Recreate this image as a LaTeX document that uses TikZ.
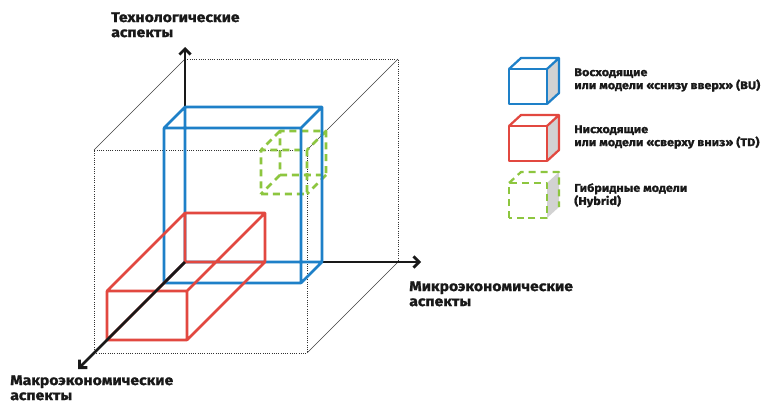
\documentclass[tikz,border=0pt]{standalone}
\usepackage{fontspec}
\setmainfont{Fira Sans}[FakeStretch=1.12,BoldFeatures={FakeBold=1.3}]
\usetikzlibrary{arrows.meta}

\definecolor{bublue}{RGB}{30,128,200}
\definecolor{tdred}{RGB}{226,72,64}
\definecolor{hygreen}{RGB}{141,198,63}
\definecolor{sidegray}{RGB}{210,210,210}
\definecolor{inkblack}{RGB}{25,25,25}

\tikzset{
  frame/.style={densely dotted,line width=0.6pt,black!80},
  framediag/.style={line width=0.4pt,black!75},
  axis/.style={line width=2pt,inkblack,-{Straight Barb[length=1.4mm,width=2.8mm]}},
  bubox/.style={line width=1.8pt,bublue},
  tdbox/.style={line width=1.8pt,tdred},
  hybox/.style={line width=1.8pt,hygreen,dash pattern=on 5pt off 3.5pt},
  axislabel/.style={inner sep=0pt,anchor=north west,align=left,text=inkblack,
    font=\fontsize{10pt}{10.7pt}\selectfont\bfseries},
  legendlabel/.style={inner sep=0pt,anchor=north west,align=left,text=inkblack,
    font=\fontsize{8pt}{9.3pt}\selectfont\bfseries}
}

\begin{document}
\begin{tikzpicture}[x=0.025cm,y=0.025cm,z={(-0.025cm,-0.025cm)},line join=round]
\fill[white] (0,0) rectangle (766,403);
\useasboundingbox (0,0) rectangle (766,403);

\begin{scope}[shift={(185,141)}]
\coordinate (O) at (0,0,0);
\coordinate (techend) at (0,215,0);
\coordinate (microend) at (236,0,0);
\coordinate (macroend) at (0,0,107);

% big cube
\draw[frame] (0,203,0) -- (213,203,0) -- (213,0,0);
\draw[frame] (0,0,91) -- (213,0,91) -- (213,203,91) -- (0,203,91) -- cycle;
\draw[framediag] (0,203,0) -- (0,203,91) (213,203,0) -- (213,203,91) (213,0,0) -- (213,0,91);

\draw[axis] (O) -- (techend);
\draw[axis] (O) -- (microend);

% hybrid
\draw[hybox] (167,159,72) -- (213,159,72) -- (213,203,72) -- (167,203,72) -- cycle
  (167,159,91) -- (213,159,91) -- (213,203,91) -- (167,203,91) -- cycle
  (167,159,72) -- (167,159,91) (213,159,72) -- (213,159,91)
  (213,203,72) -- (213,203,91) (167,203,72) -- (167,203,91);

% bottom-up
\draw[bubox] (0,0,0) -- (137,0,0) -- (137,155,0) -- (0,155,0) -- cycle
  (0,0,21) -- (137,0,21) -- (137,155,21) -- (0,155,21) -- cycle
  (0,0,0) -- (0,0,21) (137,0,0) -- (137,0,21)
  (137,155,0) -- (137,155,21) (0,155,0) -- (0,155,21);

% top-down
\draw[tdbox] (0,0,0) -- (80,0,0) -- (80,49,0) -- (0,49,0) -- cycle
  (0,0,78) -- (80,0,78) -- (80,49,78) -- (0,49,78) -- cycle
  (0,0,0) -- (0,0,78) (80,0,0) -- (80,0,78)
  (80,49,0) -- (80,49,78) (0,49,0) -- (0,49,78);

\draw[axis] (O) -- (macroend);
\end{scope}

\node[axislabel] (techlabel) at (111,391) {Технологические\\аспекты};
\node[axislabel] (microlabel) at (409,122) {Микроэкономические\\аспекты};
\node[axislabel] (macrolabel) at (10,28) {Макроэкономические\\аспекты};

% legend
\begin{scope}[shift={(509,299)}]
\fill[sidegray] (38,0) -- (50,11) -- (50,46) -- (38,35) -- cycle;
\draw[bubox,line width=1.6pt] (0,0) rectangle (38,35);
\draw[bubox,line width=1.6pt] (0,35) -- (12,46) -- (50,46) -- (50,11) -- (38,0) (38,35) -- (50,46);
\end{scope}
\begin{scope}[shift={(509,242)}]
\fill[sidegray] (38,0) -- (50,11) -- (50,46) -- (38,35) -- cycle;
\draw[tdbox,line width=1.6pt] (0,0) rectangle (38,35);
\draw[tdbox,line width=1.6pt] (0,35) -- (12,46) -- (50,46) -- (50,11) -- (38,0) (38,35) -- (50,46);
\end{scope}
\begin{scope}[shift={(509,185)}]
\fill[sidegray] (38,0) -- (50,11) -- (50,46) -- (38,35) -- cycle;
\draw[hybox,line width=1.6pt] (0,0) rectangle (38,35);
\draw[hybox,line width=1.6pt] (0,35) -- (12,46) -- (50,46) -- (50,11);
\end{scope}

\node[legendlabel] (bulabel) at (574,335) {Восходящие\\или модели «снизу вверх» (BU)};
\node[legendlabel] (tdlabel) at (574,278) {Нисходящие\\или модели «сверху вниз» (TD)};
\node[legendlabel] (hylabel) at (574,220) {Гибридные модели\\(Hybrid)};
\end{tikzpicture}
\end{document}
